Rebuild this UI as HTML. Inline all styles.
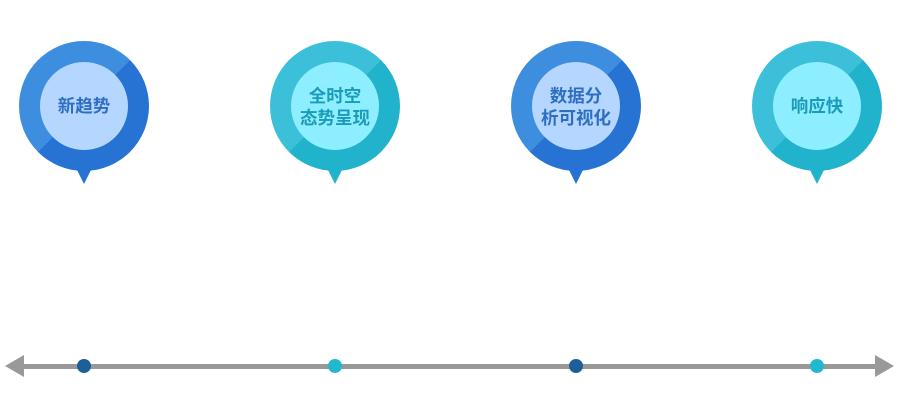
<!DOCTYPE html>
<html><head><meta charset="utf-8"><style>
html,body{margin:0;padding:0;background:#fff;}
</style></head><body>
<svg width="900" height="400" viewBox="0 0 900 400" xmlns="http://www.w3.org/2000/svg" style="display:block;font-family:'Liberation Sans','Noto Sans CJK SC',sans-serif;">
<defs>
<linearGradient id="gb" x1="0" y1="0" x2="1" y2="1">
<stop offset="0.5" stop-color="#3e8ee0"/><stop offset="0.5" stop-color="#2673d3"/>
</linearGradient>
<linearGradient id="gc" x1="0" y1="0" x2="1" y2="1">
<stop offset="0.5" stop-color="#3cc0d9"/><stop offset="0.5" stop-color="#22b3cc"/>
</linearGradient>
</defs>
<g>
<polygon points="76,168 92,168 84,184" fill="#2673d3"/>
<circle cx="84" cy="106" r="65" fill="url(#gb)"/>
<circle cx="84" cy="106" r="44" fill="#b5d7ff"/>
<text x="84" y="112" text-anchor="middle" font-size="17.5" font-weight="bold" fill="#2f6fc2">新趋势</text>
</g>
<g>
<polygon points="327,168 343,168 335,184" fill="#22b3cc"/>
<circle cx="335" cy="106" r="65" fill="url(#gc)"/>
<circle cx="335" cy="106" r="44" fill="#8deeff"/>
<text x="335" y="102" text-anchor="middle" font-size="17.5" font-weight="bold" fill="#1b9bb8">全时空</text>
<text x="335" y="124" text-anchor="middle" font-size="17.5" font-weight="bold" fill="#1b9bb8">态势呈现</text>
</g>
<g>
<polygon points="568,168 584,168 576,184" fill="#2673d3"/>
<circle cx="576" cy="106" r="65" fill="url(#gb)"/>
<circle cx="576" cy="106" r="44" fill="#b5d7ff"/>
<text x="576" y="102" text-anchor="middle" font-size="17.5" font-weight="bold" fill="#2f6fc2">数据分</text>
<text x="576" y="124" text-anchor="middle" font-size="17.5" font-weight="bold" fill="#2f6fc2">析可视化</text>
</g>
<g>
<polygon points="809,168 825,168 817,184" fill="#22b3cc"/>
<circle cx="817" cy="106" r="65" fill="url(#gc)"/>
<circle cx="817" cy="106" r="44" fill="#8deeff"/>
<text x="817" y="112" text-anchor="middle" font-size="17.5" font-weight="bold" fill="#1b9bb8">响应快</text>
</g>
<rect x="20" y="364" width="860" height="5" fill="#999"/>
<polygon points="5,366 24,355 24,377" fill="#999"/>
<polygon points="894,366 875,355 875,377" fill="#999"/>
<circle cx="84" cy="366" r="7" fill="#1f5f99"/>
<circle cx="335" cy="366" r="7" fill="#22b8d0"/>
<circle cx="576" cy="366" r="7" fill="#1f5f99"/>
<circle cx="817" cy="366" r="7" fill="#22b8d0"/>
</svg>
</body></html>
